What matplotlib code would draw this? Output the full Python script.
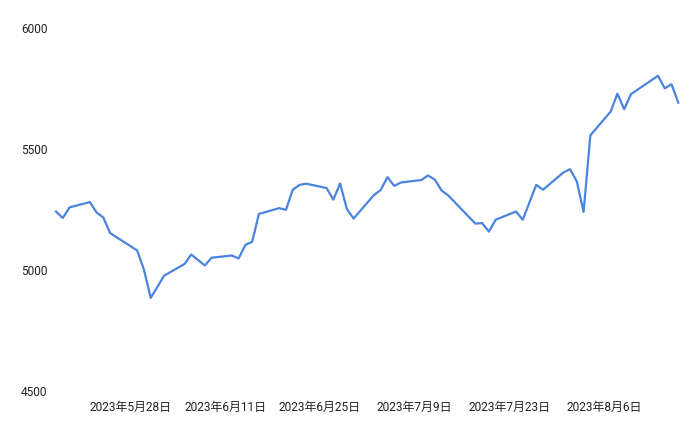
import numpy as np
import pandas as pd
import matplotlib
matplotlib.use('Agg')
import matplotlib.pyplot as plt


# 数据
dates = [
    '2023-05-17', '2023-05-18', '2023-05-19', '2023-05-22', '2023-05-23',
    '2023-05-24', '2023-05-25', '2023-05-29', '2023-05-30', '2023-05-31',
    '2023-06-02', '2023-06-05', '2023-06-06', '2023-06-08', '2023-06-09',
    '2023-06-12', '2023-06-13', '2023-06-14', '2023-06-15', '2023-06-16',
    '2023-06-19', '2023-06-20', '2023-06-21', '2023-06-22', '2023-06-23',
    '2023-06-26', '2023-06-27', '2023-06-28', '2023-06-29', '2023-06-30',
    '2023-07-03', '2023-07-04', '2023-07-05', '2023-07-06', '2023-07-07',
    '2023-07-10', '2023-07-11', '2023-07-12', '2023-07-13', '2023-07-14',
    '2023-07-18', '2023-07-19', '2023-07-20', '2023-07-21', '2023-07-24',
    '2023-07-25', '2023-07-27', '2023-07-28', '2023-07-31', '2023-08-01',
    '2023-08-02', '2023-08-03', '2023-08-04', '2023-08-07', '2023-08-08',
    '2023-08-09', '2023-08-10', '2023-08-14', '2023-08-15', '2023-08-16',
    '2023-08-17',
]
values = [
    5242, 5215, 5259, 5281, 5238,
    5217, 5153, 5081, 5002, 4885,
    4977, 5025, 5064, 5019, 5051,
    5060, 5048, 5104, 5117, 5232,
    5256, 5249, 5332, 5352, 5357,
    5339, 5291, 5358, 5252, 5213,
    5310, 5331, 5384, 5348, 5362,
    5372, 5391, 5374, 5329, 5308,
    5192, 5194, 5159, 5208, 5242,
    5208, 5352, 5332, 5403, 5417,
    5366, 5240, 5557, 5655, 5729,
    5665, 5727, 5803, 5751, 5768,
    5692,
]

tick_dates = ['2023-05-28', '2023-06-11', '2023-06-25', '2023-07-09', '2023-07-23', '2023-08-06']
tick_labels = ['2023年5月28日', '2023年6月11日', '2023年6月25日',
               '2023年7月9日', '2023年7月23日', '2023年8月6日']
y_ticks = [4500, 5000, 5500, 6000]


def main():
    plt.rcParams['font.family'] = ['Roboto', 'Noto Sans CJK JP', 'DejaVu Sans']

    x = pd.to_datetime(dates)

    fig = plt.figure(figsize=(7, 4.33), dpi=100)
    ax = fig.add_axes([0.08, 0.097, 0.889, 0.838])

    ax.plot(x, values, color='#4a84e0', linewidth=1.6, clip_on=False)

    ax.set_xlim(x[0], x[-1])
    ax.set_ylim(4500, 6000)

    ax.set_xticks(pd.to_datetime(tick_dates))
    ax.set_xticklabels(tick_labels)
    ax.set_yticks(y_ticks)
    ax.set_yticklabels([str(v) for v in y_ticks])

    ax.tick_params(axis='both', length=0, labelsize=8.6, colors='#222222')
    ax.tick_params(axis='y', pad=6)
    ax.tick_params(axis='x', pad=7)

    # 去掉边框
    for s in ax.spines.values():
        s.set_visible(False)

    fig.savefig('out.png', dpi=100, facecolor='white')


if __name__ == "__main__":
    main()
